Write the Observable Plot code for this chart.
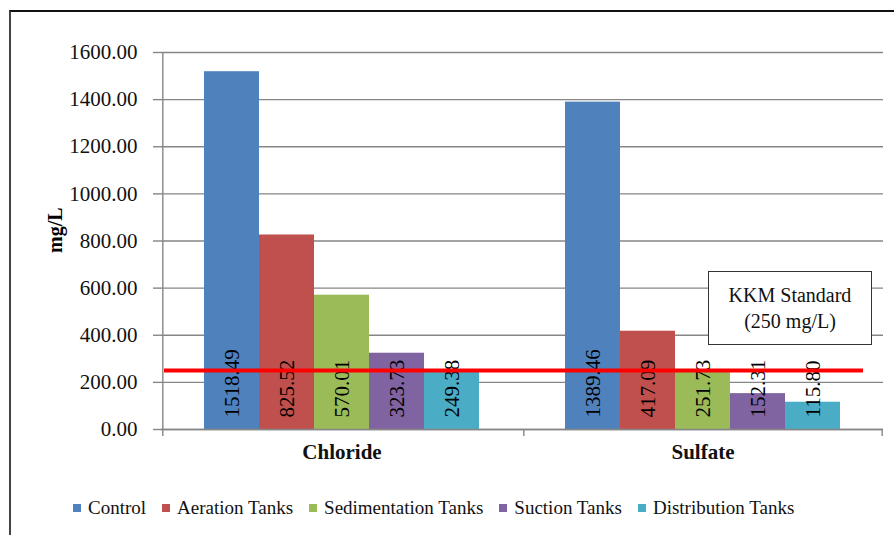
<!DOCTYPE html>
<html>
<head>
<meta charset="utf-8">
<script src="https://cdn.jsdelivr.net/npm/d3@7"></script>
<script src="https://cdn.jsdelivr.net/npm/@observablehq/plot@0.6"></script>
<style>
  html, body { margin: 0; padding: 0; background: #fff; }
  #wrap { position: relative; width: 894px; height: 535px; overflow: hidden; }
  #border { position: absolute; left: 9px; top: 10px; width: 900px; height: 540px; border-left: 2px solid #444; border-top: 2px solid #111; pointer-events: none; }
  #note { position: absolute; left: 708px; top: 271px; width: 162px; height: 72px; border: 1.5px solid #333; background: #fff;
          display: flex; flex-direction: column; justify-content: center; align-items: center; font-size: 20px; line-height: 26px; color: #111; }
  #legend { position: absolute; left: 73px; top: 497px; display: flex; align-items: center; font-size: 19px; color: #111; white-space: nowrap; }
  .item { display: flex; align-items: center; margin-right: 16px; }
  .sw { width: 8px; height: 8px; margin-right: 7px; }
  .serif, .serif * { font-family: "Times New Roman", "Liberation Serif", Times, serif !important; }
</style>
</head>
<body>
<div id="wrap" class="serif"></div>
<script>
// ---- data ----
const categories = ["Chloride", "Sulfate"];
const series = ["Control", "Aeration Tanks", "Sedimentation Tanks", "Suction Tanks", "Distribution Tanks"];
const chlorideValues = [1518.49, 825.52, 570.01, 323.73, 249.38];
const sulfateValues = [1389.46, 417.09, 251.73, 152.31, 115.80];
const yTicks = [0, 200, 400, 600, 800, 1000, 1200, 1400, 1600];
const standardValue = 250;
const standardNote = ["KKM Standard", "(250 mg/L)"];
const yLabel = "mg/L";
const colors = ["#4F81BD", "#C0504D", "#9BBB59", "#8064A2", "#4BACC6"];

const SERIF = "Times New Roman, Liberation Serif, Times, serif";

const valuesByCat = {Chloride: chlorideValues, Sulfate: sulfateValues};
const rows = [];
for (const c of categories) series.forEach((s, i) => rows.push({cat: c, series: s, value: valuesByCat[c][i]}));

// ---- layout ----
const W = 894, H = 480;
const mL = 160, mR = 11, mT = 52, mB = 51;
const padOuter = 0.74;
const facetW = (W - mL - mR) / categories.length;
const step = facetW / (series.length + 2 * padOuter);
const edge = (padOuter + 0.5) * step;
const frameH = H - mT - mB;

const plot = Plot.plot({
  width: W, height: H,
  marginLeft: mL, marginRight: mR, marginTop: mT, marginBottom: mB,
  style: {fontFamily: SERIF, background: "transparent", color: "#111"},
  fx: {domain: categories, padding: 0, label: null},
  x: {domain: series, paddingInner: 0, paddingOuter: padOuter, axis: null},
  y: {domain: [0, 1600], label: null},
  color: {domain: series, range: colors},
  marks: [
    Plot.gridY(yTicks, {stroke: "#868686", strokeOpacity: 1, strokeWidth: 1.4}),
    Plot.axisY({ticks: yTicks, tickSize: 8, tickPadding: 16, tickFormat: d3.format(".2f"), fontSize: 21, stroke: "#868686", strokeWidth: 1.4, label: null}),
    Plot.axisFx({anchor: "bottom", tickSize: 0, tickPadding: 15, fontSize: 21, fontWeight: "bold", label: null}),
    Plot.barY(rows, {fx: "cat", x: "series", y: "value", fill: "series"}),
    // axis line and category dividers
    Plot.ruleX([{cat: "Chloride", s: series[0]}], {fx: "cat", x: "s", dx: -edge, insetBottom: -7, stroke: "#868686", strokeWidth: 1.4}),
    Plot.ruleX([{cat: "Sulfate", s: series[0]}], {fx: "cat", x: "s", dx: -edge, insetTop: frameH, insetBottom: -7, stroke: "#868686", strokeWidth: 1.4}),
    Plot.ruleX([{cat: "Sulfate", s: series[series.length - 1]}], {fx: "cat", x: "s", dx: edge, insetTop: frameH, insetBottom: -7, stroke: "#868686", strokeWidth: 1.4}),
    Plot.ruleY([0], {stroke: "#868686", strokeWidth: 1.6}),
    Plot.text(rows, {fx: "cat", x: "series", y: 0, text: d => d3.format(".2f")(d.value), rotate: -90, textAnchor: "start", dy: -12, fontSize: 21, letterSpacing: "1px", fill: "#000"}),
    Plot.ruleY([{cat: "Chloride", v: standardValue}], {fx: "cat", y: "v", stroke: "#FF0000", strokeWidth: 4, insetLeft: 3}),
    Plot.ruleY([{cat: "Sulfate", v: standardValue}], {fx: "cat", y: "v", stroke: "#FF0000", strokeWidth: 4, insetRight: 20}),
    Plot.text([{cat: "Chloride"}], {fx: "cat", frameAnchor: "left", dx: -106, dy: 12, rotate: -90, text: () => yLabel, fontSize: 20, fontWeight: "bold", fill: "#000"})
  ]
});

const wrap = document.getElementById("wrap");
wrap.appendChild(plot);

const note = document.createElement("div");
note.id = "note";
standardNote.forEach(t => { const d = document.createElement("div"); d.textContent = t; note.appendChild(d); });
wrap.appendChild(note);

const legend = document.createElement("div");
legend.id = "legend";
series.forEach((s, i) => {
  const it = document.createElement("div"); it.className = "item";
  const sw = document.createElement("div"); sw.className = "sw"; sw.style.background = colors[i];
  const tx = document.createElement("span"); tx.textContent = s;
  it.appendChild(sw); it.appendChild(tx); legend.appendChild(it);
});
wrap.appendChild(legend);

const border = document.createElement("div");
border.id = "border";
wrap.appendChild(border);
</script>
</body>
</html>
